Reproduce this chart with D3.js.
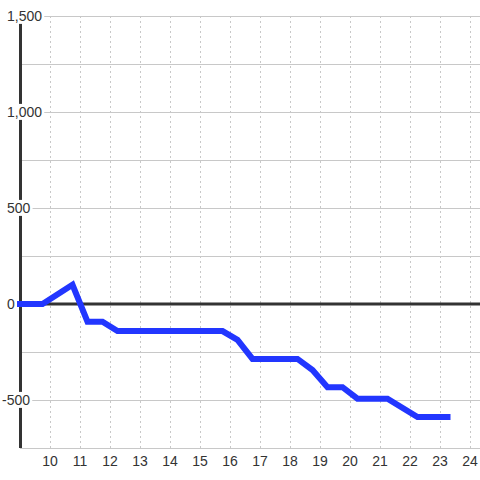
<!DOCTYPE html>
<html>
<head>
<meta charset="utf-8">
<script src="https://cdn.jsdelivr.net/npm/d3@7"></script>
<style>
  body { margin: 0; background: #fff; }
  text { font-family: "Liberation Sans", Arial, sans-serif; font-size: 14px; fill: #333; }
</style>
</head>
<body>
<div id="chart"></div>
<script>
// chart data (hour of day, value)
var hours  = [9, 9.75, 10.75, 11.25, 11.75, 12.25, 15.75, 16.25, 16.75, 18.25, 18.75, 19.25, 19.75, 20.25, 21.25, 22.25, 23.25]
var values = [0, 0, 100, -92, -92, -141, -141, -187, -286, -286, -344, -433, -433, -493, -493, -589, -589]
var xTicks = [10, 11, 12, 13, 14, 15, 16, 17, 18, 19, 20, 21, 22, 23, 24]
var yTicks = [-500, 0, 500, 1000, 1500]
var yGrid  = [-750, -500, -250, 0, 250, 500, 750, 1000, 1250, 1500]

var width = 480,
    height = 480,
    margin = {top: 16, right: 0, bottom: 32, left: 20}

var svg = d3.select("#chart")
  .append("svg")
    .attr("width", width)
    .attr("height", height)

var x = d3.scaleLinear()
  .domain([9, 24 + 1 / 3])
  .range([margin.left, width - margin.right])

var y = d3.scaleLinear()
  .domain([-750, 1500])
  .range([height - margin.bottom, margin.top])

// vertical dashed grid
svg.append("g").selectAll("line")
  .data(xTicks)
  .enter().append("line")
    .attr("x1", function(d) { return Math.round(x(d)) + 0.5 })
    .attr("x2", function(d) { return Math.round(x(d)) + 0.5 })
    .attr("y1", y(1500))
    .attr("y2", y(-750))
    .attr("stroke", "#c8c8c8")
    .attr("stroke-dasharray", "2,3")

// horizontal grid
svg.append("g").selectAll("line")
  .data(yGrid)
  .enter().append("line")
    .attr("x1", x(9))
    .attr("x2", width)
    .attr("y1", function(d) { return Math.round(y(d)) + 0.5 })
    .attr("y2", function(d) { return Math.round(y(d)) + 0.5 })
    .attr("stroke", "#c8c8c8")

// left axis and zero line
svg.append("line")
  .attr("x1", x(9) + 0.5).attr("x2", x(9) + 0.5)
  .attr("y1", y(1500)).attr("y2", y(-750))
  .attr("stroke", "#333")
  .attr("stroke-width", 3)

svg.append("line")
  .attr("x1", x(9)).attr("x2", width)
  .attr("y1", y(0)).attr("y2", y(0))
  .attr("stroke", "#333")
  .attr("stroke-width", 3)

// y labels with white boxes
var fmt = d3.format(",")
var yLab = svg.append("g").selectAll("g")
  .data(yTicks)
  .enter().append("g")

yLab.append("text")
  .attr("x", function(d) { return d < 0 ? 2 : 7 })
  .attr("y", function(d) { return y(d) })
  .attr("dy", "0.35em")
  .text(function(d) { return fmt(d).replace("−", "-") })

yLab.each(function() {
  var g = d3.select(this)
  var b = g.select("text").node().getBBox()
  g.insert("rect", "text")
    .attr("x", b.x - 2)
    .attr("y", b.y)
    .attr("width", b.width + 4)
    .attr("height", b.height)
    .attr("fill", "#fff")
})

// x labels
svg.append("g").selectAll("text")
  .data(xTicks)
  .enter().append("text")
    .attr("x", function(d) { return x(d) })
    .attr("y", 466)
    .attr("text-anchor", "middle")
    .text(function(d) { return d })

// data line
var line = d3.line()
  .x(function(d) { return x(d[0]) })
  .y(function(d) { return y(d[1]) })

svg.append("path")
  .datum(d3.zip(hours, values))
  .attr("d", line)
  .attr("fill", "none")
  .attr("stroke", "#2236ff")
  .attr("stroke-width", 6)
  .attr("stroke-linecap", "square")
  .attr("stroke-linejoin", "miter")
</script>
</body>
</html>
